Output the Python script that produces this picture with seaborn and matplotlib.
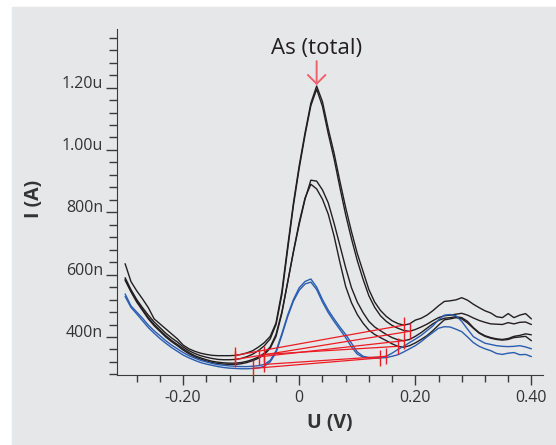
import numpy as np
import pandas as pd
import matplotlib
matplotlib.use('Agg')
import matplotlib.pyplot as plt
import matplotlib.ticker as mticker
from matplotlib.patches import Rectangle
import seaborn as sns

# potential grid (V) and currents (nA)
U = np.round(np.arange(-0.30, 0.405, 0.01), 2)

tall_1 = [635, 578, 548, 522, 494, 458, 442, 426, 410, 394,
          374, 362, 354, 348, 344, 341, 340, 340, 340, 341,
          344, 349, 356, 368, 382, 402, 445, 545, 690, 830,
          950, 1055, 1150, 1205, 1155, 1068, 990, 900, 815, 738,
          668, 610, 552, 512, 485, 466, 452, 443, 438, 442,
          454, 460, 470, 484, 500, 514, 516, 519, 526, 518,
          505, 494, 484, 477, 465, 462, 475, 462, 470, 475, 458]
tall_2 = [590, 552, 520, 494, 470, 448, 430, 412, 397, 384,
          368, 356, 347, 340, 335, 331, 328, 327, 327, 328,
          331, 337, 345, 357, 372, 394, 440, 535, 680, 822,
          942, 1048, 1142, 1195, 1140, 1052, 972, 880, 792, 715,
          645, 585, 532, 495, 468, 450, 437, 428, 421, 418,
          424, 432, 441, 452, 462, 468, 470, 473, 476, 470,
          461, 453, 447, 442, 441, 440, 446, 442, 447, 448, 440]
mid_1 = [585, 548, 515, 488, 462, 440, 422, 404, 389, 376,
         362, 350, 340, 333, 327, 322, 319, 317, 316, 316,
         318, 322, 328, 336, 348, 368, 408, 480, 575, 672,
         762, 842, 903, 900, 872, 830, 765, 694, 622, 558,
         512, 478, 450, 432, 420, 408, 398, 391, 388, 392,
         402, 414, 428, 442, 453, 460, 462, 465, 462, 450,
         430, 414, 404, 398, 394, 392, 395, 402, 405, 410, 407]
mid_2 = [582, 545, 512, 485, 458, 436, 418, 400, 385, 372,
         358, 346, 336, 329, 323, 318, 315, 313, 312, 312,
         314, 318, 324, 332, 344, 364, 402, 475, 575, 675,
         768, 846, 890, 875, 842, 794, 724, 640, 562, 510,
         472, 444, 422, 408, 398, 388, 378, 370, 367, 372,
         381, 392, 404, 420, 438, 455, 458, 462, 458, 445,
         428, 412, 402, 396, 392, 390, 392, 398, 400, 402, 388]
low_1 = [538, 500, 480, 460, 438, 420, 404, 388, 374, 362,
         350, 340, 332, 325, 320, 315, 311, 309, 307, 306,
         305, 305, 306, 308, 312, 325, 355, 410, 470, 520,
         558, 578, 586, 560, 520, 486, 458, 432, 408, 380,
         352, 338, 334, 333, 334, 338, 348, 360, 370, 382,
         393, 405, 420, 435, 455, 470, 472, 468, 450, 425,
         401, 390, 380, 376, 372, 370, 369, 370, 372, 368, 362]
low_2 = [530, 495, 474, 452, 430, 412, 395, 380, 366, 354,
         342, 333, 325, 318, 313, 309, 305, 302, 300, 299,
         298, 298, 299, 301, 306, 320, 350, 405, 465, 515,
         550, 570, 576, 552, 512, 478, 450, 424, 398, 368,
         345, 335, 332, 333, 333, 334, 338, 343, 352, 362,
         372, 385, 400, 414, 428, 433, 432, 425, 417, 400,
         382, 370, 362, 356, 347, 344, 348, 350, 343, 344, 337]

scan_names = ['tall_1', 'tall_2', 'mid_1', 'mid_2', 'low_1', 'low_2']
scan_values = [tall_1, tall_2, mid_1, mid_2, low_1, low_2]
scan_colors = ['#231f20', '#231f20', '#231f20', '#231f20', '#2a5db0', '#2a5db0']

# peak baselines: scan, left end (V), right end (V)
base_scan = ['tall_1', 'tall_2', 'mid_1', 'mid_2', 'low_1', 'low_2']
base_left = [-0.11, -0.11, -0.07, -0.06, -0.06, -0.08]
base_right = [0.18, 0.19, 0.18, 0.17, 0.15, 0.14]

ytick_vals = [400, 600, 800, 1000, 1200]
ytick_labels = ['400n', '600n', '800n', '1.00u', '1.20u']
xtick_vals = [-0.20, 0.0, 0.20, 0.40]
xtick_labels = ['-0.20', '0', '0.20', '0.40']

df = pd.concat([pd.DataFrame({'U': U, 'I': v, 'scan': n})
                for n, v in zip(scan_names, scan_values)])

grey = '#e6e7e8'
ink = '#231f20'
red = '#ed1c24'

sns.set_style('ticks', {'axes.facecolor': grey, 'axes.edgecolor': '#3a3a3a'})
plt.rcParams['font.family'] = ['Open Sans', 'DejaVu Sans']

fig = plt.figure(figsize=(5.56, 4.45), dpi=100, facecolor='white')
fig.patches.append(Rectangle((12 / 556, 0), 1 - 12 / 556, 438 / 445,
                             transform=fig.transFigure, color=grey, zorder=-5))
ax = fig.add_axes([117 / 556, 70 / 445, 426 / 556, 346 / 445])

sns.lineplot(data=df, x='U', y='I', hue='scan', palette=dict(zip(scan_names, scan_colors)),
             estimator=None, sort=False, legend=False, lw=1.0, ax=ax)

for s, xl, xr in zip(base_scan, base_left, base_right):
    vals = np.array(scan_values[scan_names.index(s)])
    il = np.argmin(np.abs(U - xl))
    ir = np.argmin(np.abs(U - xr))
    ax.plot([U[il], U[ir]], [vals[il], vals[ir]], color=red, lw=0.9, zorder=5)
    ax.plot([U[il], U[ir]], [vals[il], vals[ir]], ls='none', marker='|',
            ms=11, mew=1.0, color=red, zorder=5)

ip = int(np.argmax(tall_1))
ax.annotate('', xy=(U[ip], tall_1[ip] + 3), xytext=(U[ip], 1285),
            arrowprops=dict(arrowstyle='->,head_length=0.45,head_width=0.45',
                            color='#f0606e', lw=1.4, shrinkA=0, shrinkB=0,
                            mutation_scale=14))
ax.text(U[ip], 1327, 'As (total)', ha='center', va='center', fontsize=16, color=ink)

ax.set_xlim(-0.314, 0.42)
ax.set_ylim(278, 1388)
sns.despine(ax=ax)

ax.set_xticks(xtick_vals)
ax.set_xticklabels(xtick_labels)
ax.set_yticks(ytick_vals)
ax.set_yticklabels(ytick_labels, va='baseline')
ax.xaxis.set_minor_locator(mticker.MultipleLocator(0.04))
ax.yaxis.set_minor_locator(mticker.MultipleLocator(40))
ax.tick_params(axis='both', which='major', labelsize=11.5, labelcolor='#333333',
               color='#3a3a3a', width=1.0)
ax.tick_params(axis='x', which='major', length=7.5, pad=3.5)
ax.tick_params(axis='x', which='minor', length=5.3, width=1.0, color='#3a3a3a')
ax.tick_params(axis='y', which='major', length=8, pad=2)
ax.tick_params(axis='y', which='minor', length=6, width=1.0, color='#3a3a3a')

ax.set_xlabel('U (V)', fontsize=14, fontweight='bold', color='#333333', va='center')
ax.set_ylabel('I (A)', fontsize=14, fontweight='bold', color='#333333', va='center')
ax.xaxis.set_label_coords(0.5, -0.139)
ax.yaxis.set_label_coords(-0.195, 0.51)

fig.savefig('out.png', dpi=100, facecolor='white')
